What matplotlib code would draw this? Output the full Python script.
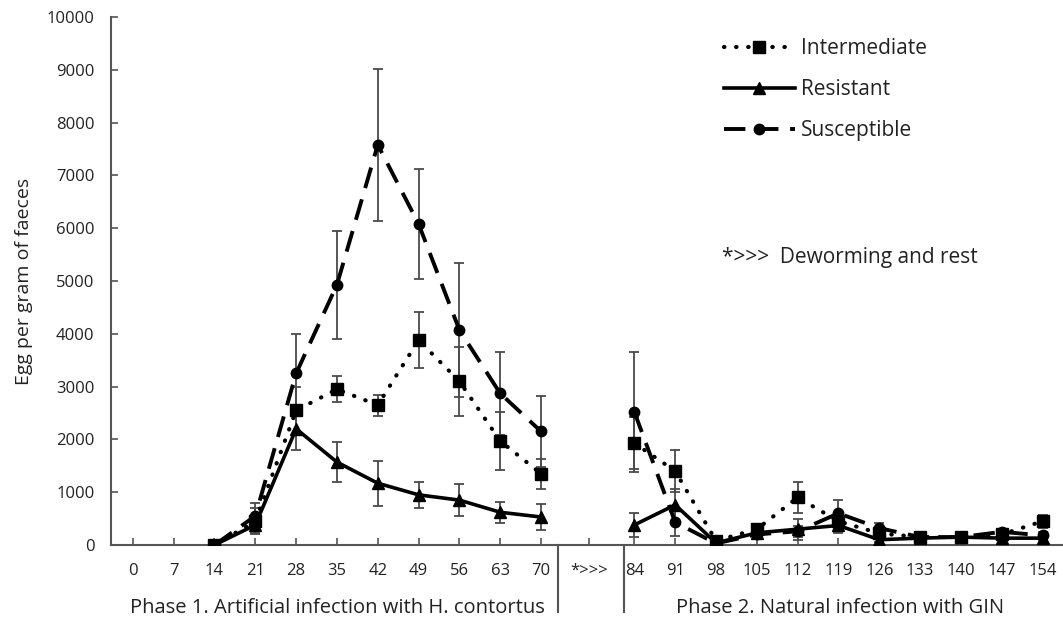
import matplotlib.pyplot as plt
import numpy as np

# Sampling days (phase 1 then phase 2), NaN where nothing was measured
days_p1 = [0, 7, 14, 21, 28, 35, 42, 49, 56, 63, 70]
days_p2 = [84, 91, 98, 105, 112, 119, 126, 133, 140, 147, 154]
gap_label = '*>>>'

intermediate = [np.nan, np.nan, 0, 450, 2550, 2950, 2650, 3880, 3100, 1970, 1350,
                1930, 1400, 80, 300, 900, 450, 220, 150, 150, 200, 450]
intermediate_err = [np.nan, np.nan, 0, 250, 450, 250, 200, 530, 650, 550, 280,
                    500, 400, 60, 100, 290, 150, 100, 50, 50, 60, 120]

resistant = [np.nan, np.nan, 0, 380, 2200, 1570, 1170, 950, 850, 620, 530,
             380, 760, 40, 230, 300, 370, 100, 130, 150, 130, 130]
resistant_err = [np.nan, np.nan, 0, 150, 400, 380, 430, 250, 300, 200, 250,
                 220, 300, 30, 80, 200, 150, 50, 40, 40, 40, 40]

susceptible = [np.nan, np.nan, 0, 550, 3250, 4930, 7580, 6080, 4070, 2870, 2150,
               2520, 430, 30, 200, 260, 600, 320, 150, 150, 250, 180]
susceptible_err = [np.nan, np.nan, 0, 250, 750, 1020, 1440, 1050, 1270, 780, 680,
                   1130, 260, 30, 80, 100, 250, 100, 50, 50, 60, 60]

plt.rcParams['font.family'] = ['Open Sans', 'DejaVu Sans']

# x positions: phase 2 shifted a bit to leave room for the gap label
pos_p1 = np.array(days_p1, dtype=float)
pos_p2 = np.array(days_p2, dtype=float) + 2
pos_gap = 78.2
n1 = len(days_p1)

fig = plt.figure(figsize=(10.63, 6.23), dpi=100)
ax = fig.add_axes([0.1044, 0.1252, 0.8956, 0.8475])

series = [
    ('Intermediate', intermediate, intermediate_err,
     dict(marker='s', markersize=8, linewidth=3.0, dashes=(0.1, 2.8),
          dash_capstyle='round')),
    ('Resistant', resistant, resistant_err,
     dict(marker='^', markersize=8, linewidth=2.6, linestyle='-')),
    ('Susceptible', susceptible, susceptible_err,
     dict(marker='o', markersize=7.5, linewidth=2.8, dashes=(5.5, 3.0))),
]

for name, vals, errs, style in series:
    vals = np.array(vals)
    errs = np.array(errs)
    for pos, sl in ((pos_p1, slice(0, n1)), (pos_p2, slice(n1, None))):
        ax.errorbar(pos, vals[sl], yerr=errs[sl], fmt='none', ecolor='#4a4a4a',
                    elinewidth=1.3, capsize=3.6, capthick=1.3, zorder=2)
        ax.plot(pos, vals[sl], color='black', zorder=3,
                label=name if sl.start == 0 else None, **style)

# Axes styling
ax.set_xlim(-3.75, 159.5)
ax.set_ylim(0, 10000)
ax.set_yticks(np.arange(0, 10001, 1000))
ax.set_xticks(list(pos_p1) + [pos_gap] + list(pos_p2))
ax.set_xticklabels([str(d) for d in days_p1] + [gap_label] + [str(d) for d in days_p2])
ax.tick_params(axis='both', direction='in', length=5, width=1.2, color='#555555',
               labelsize=12, colors='#222222')
ax.tick_params(axis='x', pad=13)
ax.tick_params(axis='y', pad=12)
ax.spines['top'].set_visible(False)
ax.spines['right'].set_visible(False)
for side in ['left', 'bottom']:
    ax.spines[side].set_color('#555555')
    ax.spines[side].set_linewidth(1.5)

# group separators below the axis
for xs in (72.9, 84.3):
    ax.plot([xs, xs], [0, -0.127], transform=ax.get_xaxis_transform(),
            color='#555555', linewidth=1.5, clip_on=False)

ax.set_ylabel('Egg per gram of faeces', fontsize=14, labelpad=10, color='#222222')

fig.text(337 / 1063, 1 - 608 / 623, 'Phase 1. Artificial infection with H. contortus',
         ha='center', va='center', fontsize=14.5, color='#222222')
fig.text(840 / 1063, 1 - 608 / 623, 'Phase 2. Natural infection with GIN',
         ha='center', va='center', fontsize=14.5, color='#222222')
fig.text(722 / 1063, 1 - 258 / 623, '*>>>  Deworming and rest',
         ha='left', va='center', fontsize=15, color='#222222')

ax.legend(loc='upper left', bbox_to_anchor=(0.624, 0.995), frameon=False,
          handlelength=3.4, handletextpad=0.3, labelspacing=0.95, fontsize=15,
          labelcolor='#222222')

plt.savefig('out.png', dpi=100)
